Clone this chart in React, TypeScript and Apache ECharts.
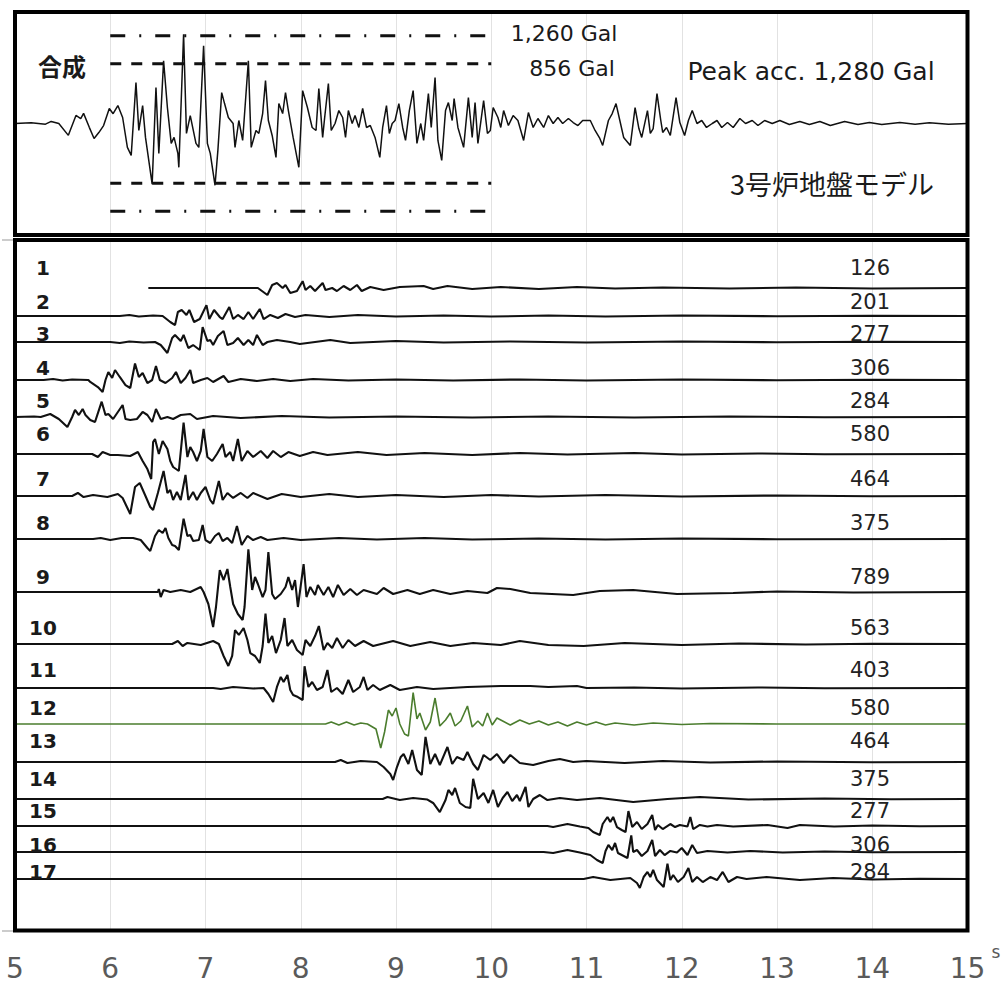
import React, { useEffect, useRef } from "react";
import * as echarts from "echarts";

// ---------------- data ----------------
const timeRange = [5, 15];
const limitLevels = [1260, 856]; // Gal, dash-dot / dashed
const limitSpan = [6, 10];

const compWave = [[5,0],[5.17,10],[5.32,-10],[5.38,30],[5.46,0],[5.56,-170],[5.64,115],[5.69,70],[5.72,145],[5.78,-55],[5.83,-215],[5.88,-130],[5.93,-30],[5.99,215],[6.03,140],[6.08,257],[6.13,86],[6.18,-343],[6.22,-458],[6.27,586],[6.30,-100],[6.34,257],[6.37,-200],[6.44,-870],[6.48,515],[6.51,-429],[6.56,901],[6.60,229],[6.64,-286],[6.67,-200],[6.71,-429],[6.72,-629],[6.77,1280],[6.80,-143],[6.84,114],[6.90,-286],[6.93,-343],[6.98,1115],[7.02,-286],[7.05,-429],[7.10,-887],[7.13,-386],[7.17,443],[7.20,286],[7.24,86],[7.29,0],[7.31,-343],[7.35,43],[7.39,-243],[7.45,901],[7.48,-343],[7.53,-100],[7.56,-143],[7.60,143],[7.63,615],[7.66,43],[7.70,-172],[7.74,-486],[7.77,286],[7.81,143],[7.84,443],[7.87,186],[7.92,-200],[7.98,-629],[8.02,472],[8.07,229],[8.12,-57],[8.16,-100],[8.19,500],[8.23,-200],[8.25,72],[8.29,572],[8.32,-100],[8.36,0],[8.40,186],[8.44,86],[8.47,-200],[8.50,186],[8.54,0],[8.57,114],[8.61,-57],[8.65,215],[8.69,-57],[8.73,-29],[8.78,-200],[8.83,-486],[8.86,-57],[8.90,257],[8.93,-143],[8.96,0],[8.99,43],[9.03,286],[9.07,-57],[9.10,-243],[9.14,186],[9.18,472],[9.22,-286],[9.26,0],[9.29,-243],[9.34,429],[9.37,-57],[9.41,658],[9.44,-243],[9.48,-529],[9.52,186],[9.55,300],[9.59,43],[9.61,358],[9.65,-57],[9.71,-343],[9.76,372],[9.80,-200],[9.83,300],[9.86,-286],[9.92,329],[9.96,-143],[9.99,-100],[10.02,229],[10.07,86],[10.10,-57],[10.13,186],[10.18,-29],[10.23,114],[10.28,43],[10.34,-243],[10.39,157],[10.44,-57],[10.49,72],[10.55,-57],[10.60,114],[10.65,0],[10.70,86],[10.75,0],[10.81,72],[10.86,14],[10.91,-29],[10.96,43],[11.04,43],[11.09,-100],[11.14,-215],[11.17,-315],[11.23,43],[11.27,143],[11.31,286],[11.35,43],[11.39,-200],[11.46,-315],[11.51,229],[11.55,-72],[11.58,-200],[11.64,186],[11.67,-143],[11.70,-72],[11.74,429],[11.78,43],[11.80,-129],[11.84,-57],[11.88,-172],[11.94,372],[11.98,14],[12.03,-172],[12.07,43],[12.11,186],[12.16,0],[12.21,43],[12.26,-57],[12.32,0],[12.37,43],[12.42,-57],[12.48,14],[12.54,-57],[12.61,72],[12.67,0],[12.74,43],[12.80,-29],[12.87,43],[12.95,0],[13.03,43],[13.13,-14],[13.24,29],[13.34,-14],[13.45,29],[13.56,-29],[13.71,29],[13.85,-14],[13.97,14],[14.1,-14],[14.29,14],[14.45,-10],[14.6,10],[14.8,-10],[15,0]];

const wave1 = [[6.4,0],[7.55,0],[7.65,-130],[7.70,56],[7.75,93],[7.81,0],[7.84,56],[7.89,-93],[7.96,-56],[8.02,126],[8.05,-37],[8.10,37],[8.15,-56],[8.23,93],[8.26,-37],[8.33,0],[8.38,-56],[8.45,37],[8.52,-37],[8.59,56],[8.64,-56],[8.73,19],[8.87,-37],[9.04,19],[9.29,37],[9.39,-19],[9.54,37],[9.8,-19],[10.1,19],[10.5,-19],[10.9,19],[11.3,-10],[11.8,10],[12.5,-10],[13.2,10],[14,-10],[15,0]];
const wave2 = [[5,0],[6.1,0],[6.2,19],[6.3,-10],[6.45,10],[6.55,0],[6.63,-111],[6.68,-167],[6.71,74],[6.75,111],[6.80,19],[6.83,111],[6.88,-111],[6.94,-56],[7.01,201],[7.04,-56],[7.09,111],[7.15,-19],[7.18,-56],[7.25,167],[7.29,-56],[7.34,19],[7.40,-56],[7.45,74],[7.50,-56],[7.57,130],[7.61,-56],[7.68,19],[7.76,-37],[7.84,37],[7.94,-19],[8.05,19],[8.3,-19],[8.6,19],[9.0,-10],[9.5,10],[10,-10],[10.6,10],[11.2,-10],[12,10],[13,-5],[14,5],[15,0]];
const wave3 = [[5,0],[6.0,0],[6.1,-19],[6.2,10],[6.35,-10],[6.47,0],[6.53,-56],[6.60,-204],[6.65,74],[6.68,130],[6.74,19],[6.77,130],[6.82,-111],[6.87,-56],[6.94,-148],[6.97,277],[7.02,19],[7.05,37],[7.08,-56],[7.13,111],[7.19,204],[7.23,-56],[7.29,-19],[7.34,74],[7.40,-56],[7.45,37],[7.50,-56],[7.54,130],[7.60,-56],[7.65,0],[7.75,37],[7.89,0],[7.99,-37],[8.31,37],[8.52,-19],[9.0,19],[9.5,-10],[10.2,10],[11,-10],[12,10],[13,-5],[14,5],[15,0]];
const wave4 = [[5,0],[5.3,0],[5.4,19],[5.5,-10],[5.6,10],[5.77,0],[5.79,-37],[5.87,-130],[5.92,-222],[5.95,0],[5.98,148],[6.02,37],[6.05,185],[6.10,56],[6.16,-93],[6.21,-148],[6.26,306],[6.30,56],[6.34,130],[6.39,-56],[6.44,0],[6.48,259],[6.52,0],[6.58,-56],[6.65,37],[6.69,148],[6.74,-56],[6.79,37],[6.84,185],[6.87,-56],[6.95,0],[7.02,37],[7.08,-37],[7.19,74],[7.24,-37],[7.37,19],[7.54,-19],[7.71,19],[7.89,-19],[8.13,19],[8.5,-10],[9,10],[9.6,-10],[10.3,10],[11,-10],[12,10],[13,-5],[14,5],[15,0]];
const wave5 = [[5,0],[5.2,10],[5.27,0],[5.37,56],[5.46,-37],[5.55,-185],[5.60,0],[5.63,130],[5.67,37],[5.71,148],[5.74,37],[5.79,-56],[5.84,-93],[5.91,284],[5.95,37],[5.98,56],[6.03,-37],[6.08,93],[6.13,222],[6.16,-37],[6.21,-56],[6.28,-37],[6.34,93],[6.39,37],[6.44,-93],[6.48,148],[6.53,-37],[6.60,0],[6.66,-37],[6.74,37],[6.84,56],[6.91,-37],[7.08,19],[7.37,-19],[7.8,19],[8.3,-10],[9,10],[9.8,-10],[10.6,10],[11.5,-10],[12.5,10],[13.5,-5],[15,0]];
const wave6 = [[5,0],[5.81,0],[5.87,-56],[5.92,37],[6.0,-19],[6.08,-19],[6.21,-37],[6.29,37],[6.34,-130],[6.39,-278],[6.43,-463],[6.45,222],[6.47,278],[6.51,0],[6.55,241],[6.60,93],[6.63,-130],[6.66,-241],[6.72,-315],[6.77,580],[6.81,-56],[6.84,130],[6.87,37],[6.91,-130],[6.95,56],[6.98,463],[7.02,-56],[7.07,-130],[7.12,0],[7.18,185],[7.21,-56],[7.26,37],[7.29,-130],[7.34,278],[7.38,-130],[7.44,56],[7.50,-56],[7.58,56],[7.65,-74],[7.71,56],[7.79,-56],[7.87,37],[7.99,-37],[8.13,37],[8.28,-19],[8.6,37],[8.9,-19],[9.3,19],[9.8,-19],[10.3,19],[10.8,-10],[11.5,19],[12,-10],[12.8,10],[13.5,-5],[15,0]];
const wave7 = [[5,0],[5.60,0],[5.66,56],[5.72,-19],[5.82,19],[5.97,-19],[6.08,37],[6.13,-37],[6.18,-222],[6.21,-333],[6.26,167],[6.31,241],[6.37,0],[6.42,-204],[6.45,-259],[6.50,56],[6.56,464],[6.60,56],[6.63,111],[6.66,-74],[6.70,74],[6.74,-74],[6.79,389],[6.82,-74],[6.87,74],[6.91,-74],[6.95,56],[7.00,167],[7.05,-74],[7.08,-148],[7.14,278],[7.18,-74],[7.23,56],[7.29,-37],[7.37,56],[7.44,-37],[7.50,56],[7.65,-56],[7.8,37],[8.0,-19],[8.3,37],[8.6,-19],[9.0,19],[9.5,-19],[10,19],[10.5,-10],[11.2,19],[12,-10],[13,10],[14,-5],[15,0]];
const wave8 = [[5,0],[5.82,0],[5.90,19],[6.00,-19],[6.12,19],[6.24,19],[6.32,-19],[6.39,-167],[6.42,-222],[6.47,56],[6.51,167],[6.55,111],[6.58,204],[6.61,19],[6.65,-111],[6.68,-130],[6.72,-204],[6.77,375],[6.81,56],[6.84,74],[6.87,-37],[6.93,-19],[6.97,259],[7.00,-19],[7.05,-74],[7.10,56],[7.14,111],[7.18,-37],[7.23,19],[7.28,-74],[7.33,241],[7.38,-111],[7.44,56],[7.50,-19],[7.58,37],[7.65,-19],[7.82,19],[8.0,-19],[8.4,19],[8.8,-10],[9.3,19],[9.8,-10],[10.5,10],[11.2,-10],[12,10],[13,-5],[15,0]];
const wave9 = [[5,0],[6.50,0],[6.51,56],[6.53,-93],[6.56,37],[6.63,0],[6.74,37],[6.84,0],[6.95,93],[6.98,0],[7.03,-222],[7.08,-648],[7.11,-278],[7.15,407],[7.19,222],[7.23,426],[7.26,93],[7.29,-222],[7.34,-407],[7.39,-518],[7.41,-278],[7.45,789],[7.49,37],[7.52,278],[7.55,148],[7.60,-93],[7.63,37],[7.66,740],[7.70,-37],[7.73,-130],[7.79,-37],[7.84,93],[7.87,278],[7.91,37],[7.94,222],[7.97,-278],[8.03,518],[8.06,-93],[8.10,93],[8.15,-56],[8.18,130],[8.24,-56],[8.29,93],[8.34,-93],[8.39,130],[8.45,-56],[8.52,56],[8.59,-56],[8.66,37],[8.80,-37],[8.87,74],[8.97,-37],[9.12,37],[9.25,-37],[9.39,37],[9.57,-37],[9.75,19],[9.96,-19],[10.06,74],[10.20,56],[10.41,-19],[10.86,-56],[11.14,19],[11.49,37],[11.95,-37],[12.54,-19],[13,10],[13.8,-10],[15,0]];
const wave10 = [[5,0],[6.65,0],[6.71,56],[6.76,-37],[6.81,19],[6.95,-19],[7.08,56],[7.14,0],[7.19,-222],[7.24,-407],[7.28,-222],[7.31,259],[7.35,167],[7.40,296],[7.44,74],[7.47,-167],[7.52,-222],[7.57,-352],[7.60,-37],[7.63,563],[7.66,19],[7.70,148],[7.74,-167],[7.79,74],[7.83,481],[7.86,-37],[7.91,74],[7.96,-111],[8.02,-204],[8.05,74],[8.10,-37],[8.15,148],[8.19,333],[8.24,-111],[8.28,19],[8.33,-74],[8.38,111],[8.44,-74],[8.50,74],[8.57,-37],[8.66,56],[8.76,-37],[8.97,56],[9.15,-37],[9.36,37],[9.57,-37],[9.81,19],[10.1,-19],[10.3,56],[10.6,-19],[10.97,-37],[11.4,19],[12,-19],[12.6,10],[13.3,-10],[14,5],[15,0]];
const wave11 = [[5,0],[7.08,0],[7.16,-19],[7.29,19],[7.50,-10],[7.61,0],[7.66,-111],[7.71,-259],[7.75,19],[7.79,204],[7.82,111],[7.86,241],[7.89,-37],[7.92,-130],[7.97,-167],[8.02,-222],[8.04,403],[8.08,19],[8.12,111],[8.17,-37],[8.23,19],[8.28,333],[8.32,-74],[8.38,0],[8.44,-111],[8.50,148],[8.55,-74],[8.62,19],[8.66,204],[8.70,-37],[8.76,56],[8.83,-37],[8.94,56],[9.04,-37],[9.22,19],[9.39,-19],[9.75,19],[10.1,37],[10.41,37],[10.6,19],[10.9,37],[11.0,0],[11.5,10],[12,-10],[12.8,10],[13.5,-5],[15,0]];
const wave12 = [[5,0],[8.26,0],[8.32,37],[8.40,-19],[8.48,37],[8.56,-19],[8.63,19],[8.70,0],[8.79,-93],[8.84,-444],[8.88,-148],[8.92,259],[8.96,148],[9.00,296],[9.04,0],[9.09,-185],[9.13,-222],[9.18,580],[9.22,93],[9.25,204],[9.31,-111],[9.36,37],[9.41,481],[9.46,-37],[9.52,74],[9.57,204],[9.62,-37],[9.68,56],[9.75,333],[9.80,-56],[9.86,56],[9.91,-37],[9.96,204],[10.01,-19],[10.06,111],[10.12,56],[10.2,-19],[10.3,74],[10.4,0],[10.5,56],[10.6,-19],[10.7,37],[10.8,-37],[10.9,37],[11.0,-19],[11.1,37],[11.2,-19],[11.3,19],[11.5,-19],[11.7,19],[12.0,-10],[12.3,10],[13,0],[15,0]];
const wave13 = [[5,0],[8.36,0],[8.42,37],[8.49,-19],[8.63,19],[8.80,0],[8.87,-93],[8.94,-222],[8.97,-333],[9.01,-93],[9.05,93],[9.08,148],[9.13,-37],[9.17,222],[9.22,-148],[9.27,-241],[9.31,464],[9.36,-37],[9.41,148],[9.46,-56],[9.54,278],[9.59,-37],[9.64,93],[9.71,37],[9.75,185],[9.81,-37],[9.86,-148],[9.92,130],[9.99,37],[10.06,148],[10.13,-19],[10.20,130],[10.3,-19],[10.44,-56],[10.6,19],[10.72,56],[10.86,0],[11.0,19],[11.4,-19],[11.8,19],[12.3,-10],[13,10],[14,-5],[15,0]];
const wave14 = [[5,0],[8.86,0],[8.91,37],[9.04,-19],[9.18,19],[9.33,-10],[9.39,-74],[9.46,-241],[9.52,-19],[9.55,167],[9.59,74],[9.62,204],[9.67,-74],[9.73,-148],[9.78,-167],[9.81,375],[9.86,0],[9.92,111],[9.97,-74],[10.02,167],[10.07,-148],[10.12,19],[10.17,130],[10.22,-37],[10.27,74],[10.30,-37],[10.36,222],[10.39,-148],[10.44,0],[10.51,74],[10.59,-19],[10.72,19],[10.90,-19],[11.14,19],[11.49,-56],[11.85,0],[12.19,37],[12.7,-10],[13.5,10],[14.2,-5],[15,0]];
const wave15 = [[5,0],[10.59,0],[10.65,-19],[10.80,37],[10.93,-10],[11.02,-37],[11.07,-111],[11.14,-167],[11.17,37],[11.22,167],[11.25,74],[11.28,167],[11.32,-19],[11.37,-74],[11.41,-111],[11.44,277],[11.48,-19],[11.53,74],[11.58,-56],[11.64,37],[11.69,204],[11.72,-74],[11.75,19],[11.80,-56],[11.88,37],[11.93,-19],[11.98,19],[12.06,-10],[12.09,167],[12.12,-56],[12.19,19],[12.27,-10],[12.37,19],[12.54,-10],[12.90,19],[13.11,-37],[13.24,19],[13.6,-10],[14,10],[14.5,-5],[15,0]];
const wave16 = [[5,0],[10.55,0],[10.65,-19],[10.80,37],[10.93,-10],[11.04,-56],[11.11,-148],[11.17,-204],[11.20,19],[11.23,130],[11.27,37],[11.30,167],[11.33,-19],[11.39,-74],[11.43,-111],[11.47,306],[11.49,0],[11.53,37],[11.58,-74],[11.64,19],[11.69,222],[11.72,-74],[11.77,37],[11.82,-56],[11.88,19],[11.95,-10],[12.00,74],[12.06,-56],[12.11,130],[12.16,-19],[12.27,19],[12.48,-10],[12.72,19],[13.06,-10],[13.5,10],[14,-5],[15,0]];
const wave17 = [[5,0],[10.97,0],[11.07,37],[11.25,-19],[11.46,19],[11.53,-74],[11.56,-167],[11.60,37],[11.64,130],[11.67,37],[11.70,167],[11.74,-19],[11.77,-74],[11.81,-148],[11.85,284],[11.88,-19],[11.91,74],[11.96,-56],[12.02,37],[12.07,204],[12.11,-56],[12.16,37],[12.22,-56],[12.30,37],[12.37,-19],[12.43,130],[12.49,-56],[12.58,37],[12.68,0],[12.89,37],[13.24,-19],[13.59,19],[14,-10],[14.5,5],[15,0]];

const traceNumbers = ["1","2","3","4","5","6","7","8","9","10","11","12","13","14","15","16","17"];
const peakValues = [126, 201, 277, 306, 284, 580, 464, 375, 789, 563, 403, 580, 464, 375, 277, 306, 284];
const highlightedTrace = 12;

// ---------------- layout (pixels) ----------------
const PLOT_LEFT = 15;
const PLOT_RIGHT = 33.5;
const traceBaselines = [288, 316, 342, 380, 417, 454, 496, 539, 592, 644, 688, 724, 762, 799, 826, 852, 879];
const traceLabelY = [268, 302, 334, 368, 401, 434, 479, 523, 577, 628, 670, 708, 741, 779, 811, 845, 872];
const TRACE_HALF_PX = 54;
const TRACE_RANGE = 1000; // Gal for TRACE_HALF_PX

export default function App() {
  const ref = useRef<HTMLDivElement>(null);
  useEffect(() => {
    if (!ref.current) return;
    const chart = echarts.init(ref.current, undefined, { renderer: "svg" });
    const waves = [wave1, wave2, wave3, wave4, wave5, wave6, wave7, wave8, wave9, wave10, wave11, wave12, wave13, wave14, wave15, wave16, wave17];

    const grids: any[] = [
      { left: PLOT_LEFT, right: PLOT_RIGHT, top: 12, height: 223, show: true, borderColor: "#000", borderWidth: 4, z: 5 },
      { left: PLOT_LEFT, right: PLOT_RIGHT, top: 240, bottom: 53.5, show: true, borderColor: "#000", borderWidth: 4, z: 5 },
    ];
    const xAxes: any[] = [
      {
        gridIndex: 0, type: "value", min: timeRange[0], max: timeRange[1], interval: 1,
        axisLine: { show: false }, axisTick: { show: false }, axisLabel: { show: false },
        splitLine: { show: true, showMinLine: false, showMaxLine: false, lineStyle: { color: "#e2e2e2", width: 1 } },
      },
      {
        gridIndex: 1, type: "value", min: timeRange[0], max: timeRange[1], interval: 1,
        axisLine: { show: false }, axisTick: { show: false },
        axisLabel: { show: true, showMinLabel: true, showMaxLabel: true, margin: 24, fontSize: 28, fontFamily: "DejaVu Sans", color: "#5a5a5a" },
        splitLine: { show: true, showMinLine: false, showMaxLine: false, lineStyle: { color: "#e2e2e2", width: 1 } },
      },
    ];
    const yAxes: any[] = [
      { gridIndex: 0, type: "value", min: -1600, max: 1600, show: false },
      { gridIndex: 1, type: "value", min: 0, max: 1, show: false },
    ];
    const series: any[] = [
      {
        type: "line", xAxisIndex: 0, yAxisIndex: 0, data: compWave, symbol: "none", silent: true,
        lineStyle: { color: "#111", width: 1.5 }, z: 3,
      },
    ];
    limitLevels.forEach((lv, k) => {
      [lv, -lv].forEach((v) => {
        series.push({
          type: "line", xAxisIndex: 0, yAxisIndex: 0, symbol: "none", silent: true,
          data: [[limitSpan[0], v], [limitSpan[1], v]],
          lineStyle: { color: "#111", width: 3, type: k === 0 ? [15, 14, 2, 14] : [11, 10] },
          z: 2,
        });
      });
    });

    waves.forEach((w, i) => {
      const gi = i + 2;
      grids.push({ left: PLOT_LEFT, right: PLOT_RIGHT, top: traceBaselines[i] - TRACE_HALF_PX, height: TRACE_HALF_PX * 2, show: false });
      xAxes.push({ gridIndex: gi, type: "value", min: timeRange[0], max: timeRange[1], show: false });
      yAxes.push({ gridIndex: gi, type: "value", min: -TRACE_RANGE, max: TRACE_RANGE, show: false });
      const isHi = i + 1 === highlightedTrace;
      series.push({
        type: "line", xAxisIndex: gi, yAxisIndex: gi, data: w, symbol: "none", silent: true,
        lineStyle: { color: isHi ? "#4b7d2e" : "#111", width: isHi ? 1.6 : 2.1 }, z: 3,
      });
    });

    const graphics: any[] = [];
    traceNumbers.forEach((n, i) => {
      graphics.push({
        type: "text", x: 43, y: traceLabelY[i], z: 10,
        style: { text: n, fontSize: 20, fontWeight: "bold", fontFamily: "DejaVu Sans", fill: "#1a1a1a", align: "center", verticalAlign: "middle", textAlign: "center", textVerticalAlign: "middle" },
      });
      graphics.push({
        type: "text", x: 870, y: traceLabelY[i], z: 10,
        style: { text: String(peakValues[i]), fontSize: 21, fontFamily: "DejaVu Sans", fill: "#222", align: "center", verticalAlign: "middle", textAlign: "center", textVerticalAlign: "middle" },
      });
    });
    const txt = (text: string, x: number, y: number, size: number, family: string, weight = "normal") => ({
      type: "text", x, y, z: 10,
      style: { text, fontSize: size, fontWeight: weight, fontFamily: family, fill: "#1a1a1a", align: "center", verticalAlign: "middle", textAlign: "center", textVerticalAlign: "middle" },
    });
    graphics.push(txt("合成", 62, 65, 24, '"Noto Sans CJK JP"', "bold"));
    graphics.push(txt(`1,${String(limitLevels[0]).slice(1)} Gal`, 564, 33, 22, "DejaVu Sans"));
    graphics.push(txt(`${limitLevels[1]} Gal`, 572, 68, 22, "DejaVu Sans"));
    graphics.push(txt("Peak acc. 1,280 Gal", 811, 71, 25, "DejaVu Sans"));
    graphics.push(txt("3号炉地盤モデル", 832, 183, 27, '"Noto Sans CJK JP"'));
    graphics.push({
      type: "text", x: 996, y: 952, z: 10,
      style: { text: "s", fontSize: 17, fontFamily: "DejaVu Sans", fill: "#5a5a5a", align: "center", verticalAlign: "middle", textAlign: "center", textVerticalAlign: "middle" },
    });
    graphics.push({ type: "line", shape: { x1: 2, y1: 240, x2: 13, y2: 240 }, style: { stroke: "#999", lineWidth: 1 } });
    graphics.push({ type: "line", shape: { x1: 2, y1: 931, x2: 13, y2: 931 }, style: { stroke: "#999", lineWidth: 1 } });

    chart.setOption({
      animation: false,
      backgroundColor: "#fff",
      grid: grids,
      xAxis: xAxes,
      yAxis: yAxes,
      series,
      graphic: graphics,
    });
    return () => chart.dispose();
  }, []);
  return <div ref={ref} style={{ position: "fixed", left: 0, top: 0, width: 1001, height: 984, background: "#fff" }} />;
}
